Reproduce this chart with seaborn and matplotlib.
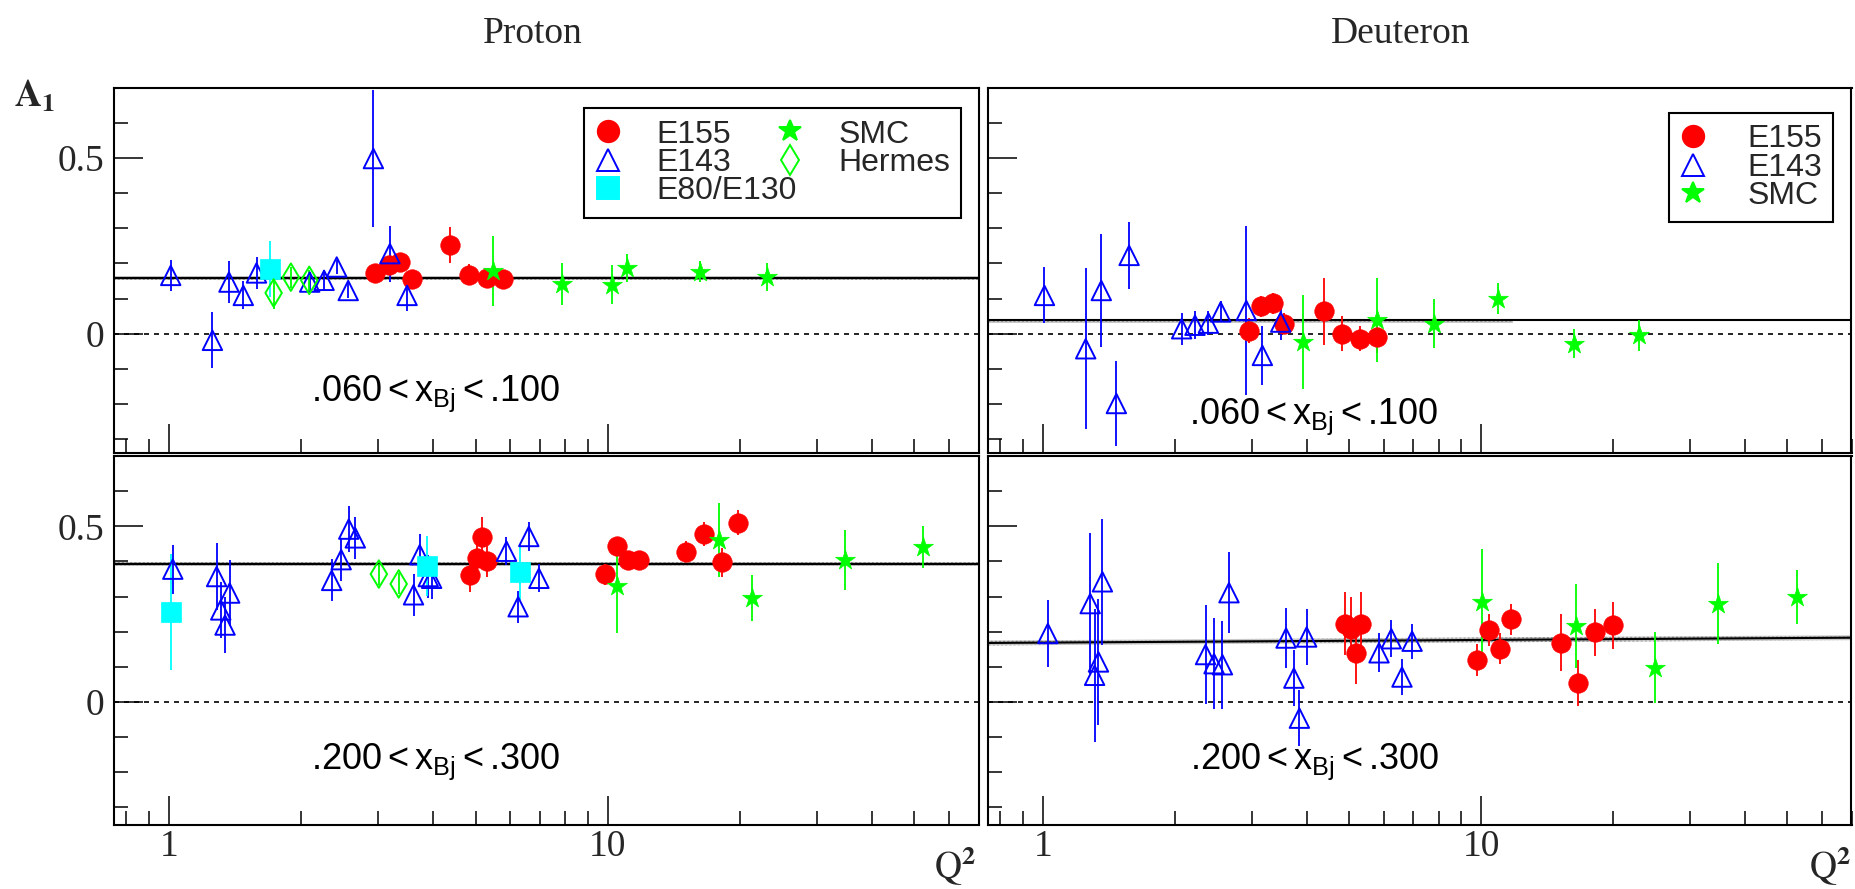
#!/usr/bin/env python3
"""
A1 vs Q^2 for proton and deuteron in two x_Bj bins (E155, E143, E80/E130, SMC, Hermes)
"""

import numpy as np
import pandas as pd
import matplotlib
matplotlib.use('Agg')
import matplotlib.pyplot as plt
import seaborn as sns
from matplotlib import ticker
from matplotlib.lines import Line2D

# =============================================================================
# DATA
# =============================================================================
# --- Proton, .060 < x < .100
P_LO_E155_Q2 = [2.95, 3.18, 3.37, 3.58, 4.38, 4.82, 5.30, 5.77]
P_LO_E155_A1 = [0.174, 0.195, 0.204, 0.155, 0.252, 0.168, 0.159, 0.157]
P_LO_E155_ER = [0.02, 0.025, 0.02, 0.02, 0.052, 0.03, 0.02, 0.02]

P_LO_E143_Q2 = [1.01, 1.257, 1.371, 1.478, 1.584, 2.094, 2.258, 2.413, 2.563, 2.925, 3.19, 3.49]
P_LO_E143_A1 = [0.166, -0.019, 0.147, 0.109, 0.173, 0.147, 0.152, 0.19, 0.123, 0.499, 0.228, 0.109]
P_LO_E143_ER = [0.043, 0.08, 0.06, 0.04, 0.045, 0.03, 0.03, 0.02, 0.02, 0.195, 0.08, 0.043]

P_LO_E80_Q2 = [1.697]
P_LO_E80_A1 = [0.185]
P_LO_E80_ER = [0.08]

P_LO_SMC_Q2 = [5.48, 7.88, 10.24, 11.07, 16.27, 23.1]
P_LO_SMC_A1 = [0.178, 0.142, 0.140, 0.188, 0.176, 0.161]
P_LO_SMC_ER = [0.1, 0.06, 0.055, 0.04, 0.03, 0.04]

P_LO_HER_Q2 = [1.733, 1.897, 2.089]
P_LO_HER_A1 = [0.116, 0.161, 0.152]
P_LO_HER_ER = [0.045, 0.03, 0.03]

# --- Deuteron, .060 < x < .100
D_LO_E155_Q2 = [2.956, 3.153, 3.344, 3.545, 4.376, 4.82, 5.28, 5.78]
D_LO_E155_A1 = [0.009, 0.078, 0.087, 0.028, 0.064, 0.0, -0.014, -0.009]
D_LO_E155_ER = [0.035, 0.03, 0.03, 0.03, 0.095, 0.05, 0.035, 0.045]

D_LO_E143_Q2 = [1.009, 1.253, 1.36, 1.472, 1.574, 2.074, 2.225, 2.387, 2.546, 2.913, 3.17, 3.49]
D_LO_E143_A1 = [0.109, -0.043, 0.123, -0.199, 0.223, 0.014, 0.024, 0.030, 0.062, 0.066, -0.062, 0.033]
D_LO_E143_ER = [0.08, 0.23, 0.16, 0.12, 0.095, 0.045, 0.04, 0.035, 0.03, 0.24, 0.085, 0.05]

D_LO_SMC_Q2 = [3.93, 5.78, 7.82, 10.95, 16.27, 22.97]
D_LO_SMC_A1 = [-0.024, 0.040, 0.028, 0.10, -0.028, -0.005]
D_LO_SMC_ER = [0.135, 0.12, 0.07, 0.045, 0.04, 0.045]

# --- Proton, .200 < x < .300
P_HI_E155_Q2 = [4.86, 5.04, 5.17, 5.31, 9.84, 10.48, 11.13, 11.79, 15.1, 16.6, 18.2, 19.85]
P_HI_E155_A1 = [0.362, 0.41, 0.47, 0.40, 0.364, 0.443, 0.405, 0.405, 0.427, 0.478, 0.397, 0.51]
P_HI_E155_ER = [0.05, 0.04, 0.057, 0.045, 0.03, 0.025, 0.025, 0.025, 0.03, 0.035, 0.04, 0.035]

P_HI_E143_Q2 = [1.021, 1.285, 1.313, 1.343, 1.376, 2.35, 2.47, 2.57, 2.66,
                3.61, 3.73, 3.9, 3.97, 5.88, 6.25, 6.61, 6.97]
P_HI_E143_A1 = [0.378, 0.357, 0.262, 0.219, 0.31, 0.346, 0.405, 0.492, 0.467,
                0.305, 0.419, 0.357, 0.352, 0.429, 0.271, 0.471, 0.352]
P_HI_E143_ER = [0.07, 0.095, 0.08, 0.08, 0.095, 0.06, 0.06, 0.065, 0.06,
                0.06, 0.06, 0.06, 0.06, 0.04, 0.045, 0.04, 0.04]

P_HI_E80_Q2 = [1.013, 3.88, 6.3]
P_HI_E80_A1 = [0.256, 0.388, 0.369]
P_HI_E80_ER = [0.165, 0.085, 0.08]

P_HI_SMC_Q2 = [10.52, 17.97, 21.3, 34.8, 52.3]
P_HI_SMC_A1 = [0.331, 0.462, 0.295, 0.405, 0.44]
P_HI_SMC_ER = [0.135, 0.105, 0.065, 0.085, 0.06]

P_HI_HER_Q2 = [3.01, 3.34]
P_HI_HER_A1 = [0.364, 0.336]
P_HI_HER_ER = [0.03, 0.03]

# --- Deuteron, .200 < x < .300
D_HI_E155_Q2 = [4.89, 5.04, 5.19, 5.31, 9.8, 10.42, 11.05, 11.68, 15.2, 16.6, 18.2, 20.0]
D_HI_E155_A1 = [0.223, 0.209, 0.140, 0.223, 0.119, 0.204, 0.152, 0.235, 0.169, 0.055, 0.199, 0.218]
D_HI_E155_ER = [0.09, 0.09, 0.09, 0.09, 0.045, 0.045, 0.045, 0.045, 0.08, 0.065, 0.067, 0.067]

D_HI_E143_Q2 = [1.027, 1.283, 1.313, 1.34, 1.368, 2.352, 2.459, 2.57, 2.66,
                3.59, 3.74, 3.85, 4.0, 5.85, 6.24, 6.6, 6.96]
D_HI_E143_A1 = [0.195, 0.28, 0.076, 0.114, 0.342, 0.135, 0.109, 0.106, 0.311,
                0.182, 0.068, -0.046, 0.185, 0.14, 0.18, 0.071, 0.173]
D_HI_E143_ER = [0.095, 0.2, 0.19, 0.18, 0.18, 0.14, 0.13, 0.125, 0.115,
                0.085, 0.08, 0.08, 0.08, 0.055, 0.052, 0.05, 0.05]

D_HI_SMC_Q2 = [10.03, 16.45, 24.9, 34.7, 52.6]
D_HI_SMC_A1 = [0.285, 0.216, 0.098, 0.28, 0.299]
D_HI_SMC_ER = [0.15, 0.12, 0.1, 0.115, 0.077]

# --- fitted constants (solid line) and their bands
FIT_Q2 = [0.75, 70]
P_LO_FIT = [0.158, 0.158]
D_LO_FIT = [0.040, 0.040]
P_HI_FIT = [0.393, 0.393]
D_HI_FIT = [0.168, 0.183]

P_LO_BAND_Q2, P_LO_BAND_LO, P_LO_BAND_HI = [0.75, 70], [0.153, 0.153], [0.163, 0.163]
D_LO_BAND_Q2, D_LO_BAND_LO, D_LO_BAND_HI = [0.75, 11.8], [0.031, 0.031], [0.042, 0.042]
P_HI_BAND_Q2, P_HI_BAND_LO, P_HI_BAND_HI = [0.75, 70], [0.387, 0.387], [0.399, 0.399]
D_HI_BAND_Q2, D_HI_BAND_LO, D_HI_BAND_HI = [0.75, 70], [0.161, 0.176], [0.175, 0.190]

BIN_LABELS = [r'.060$<$x$_{\rm Bj}$$<$.100', r'.200$<$x$_{\rm Bj}$$<$.300']
TARGETS = ['Proton', 'Deuteron']

# =============================================================================
# STYLE
# =============================================================================
sns.set_theme(style='white', rc={'axes.edgecolor': 'black', 'axes.linewidth': 1.5,
                                 'xtick.bottom': True, 'ytick.left': True})
plt.rcParams['font.family'] = ['Liberation Serif', 'DejaVu Serif']
plt.rcParams['mathtext.fontset'] = 'custom'
plt.rcParams['mathtext.rm'] = 'Liberation Sans'
plt.rcParams['mathtext.it'] = 'Liberation Sans:italic'
plt.rcParams['mathtext.bf'] = 'Liberation Sans:bold'

SANS = ['Liberation Sans', 'DejaVu Sans']
MS = 14

styles = {
    'E155':     dict(marker='o', color='#ff0000', open=False),
    'E143':     dict(marker='^', color='#0000ff', open=True),
    'E80/E130': dict(marker='s', color='#00ffff', open=False),
    'SMC':      dict(marker='*', color='#00ff00', open=False, size=15),
    'Hermes':   dict(marker='d', color='#00ff00', open=True),
}


def make_df(parts):
    frames = []
    for name, q2, a1, er in parts:
        frames.append(pd.DataFrame({'q2': q2, 'a1': a1, 'err': er, 'exp': name}))
    return pd.concat(frames, ignore_index=True)


panels = {
    (0, 0): make_df([('E155', P_LO_E155_Q2, P_LO_E155_A1, P_LO_E155_ER),
                     ('E143', P_LO_E143_Q2, P_LO_E143_A1, P_LO_E143_ER),
                     ('E80/E130', P_LO_E80_Q2, P_LO_E80_A1, P_LO_E80_ER),
                     ('SMC', P_LO_SMC_Q2, P_LO_SMC_A1, P_LO_SMC_ER),
                     ('Hermes', P_LO_HER_Q2, P_LO_HER_A1, P_LO_HER_ER)]),
    (0, 1): make_df([('E155', D_LO_E155_Q2, D_LO_E155_A1, D_LO_E155_ER),
                     ('E143', D_LO_E143_Q2, D_LO_E143_A1, D_LO_E143_ER),
                     ('SMC', D_LO_SMC_Q2, D_LO_SMC_A1, D_LO_SMC_ER)]),
    (1, 0): make_df([('E155', P_HI_E155_Q2, P_HI_E155_A1, P_HI_E155_ER),
                     ('E143', P_HI_E143_Q2, P_HI_E143_A1, P_HI_E143_ER),
                     ('E80/E130', P_HI_E80_Q2, P_HI_E80_A1, P_HI_E80_ER),
                     ('SMC', P_HI_SMC_Q2, P_HI_SMC_A1, P_HI_SMC_ER),
                     ('Hermes', P_HI_HER_Q2, P_HI_HER_A1, P_HI_HER_ER)]),
    (1, 1): make_df([('E155', D_HI_E155_Q2, D_HI_E155_A1, D_HI_E155_ER),
                     ('E143', D_HI_E143_Q2, D_HI_E143_A1, D_HI_E143_ER),
                     ('SMC', D_HI_SMC_Q2, D_HI_SMC_A1, D_HI_SMC_ER)]),
}
fits = {
    (0, 0): (P_LO_FIT, P_LO_BAND_Q2, P_LO_BAND_LO, P_LO_BAND_HI),
    (0, 1): (D_LO_FIT, D_LO_BAND_Q2, D_LO_BAND_LO, D_LO_BAND_HI),
    (1, 0): (P_HI_FIT, P_HI_BAND_Q2, P_HI_BAND_LO, P_HI_BAND_HI),
    (1, 1): (D_HI_FIT, D_HI_BAND_Q2, D_HI_BAND_LO, D_HI_BAND_HI),
}

# axes rectangles (figure fractions) and per-panel text placement
W, H = 1856, 889
rects = {
    (0, 0): [114 / W, 1 - 453 / H, 864.6 / W, 365 / H],
    (0, 1): [988 / W, 1 - 453 / H, 863.5 / W, 365 / H],
    (1, 0): [114 / W, 1 - 825 / H, 864.6 / W, 369 / H],
    (1, 1): [988 / W, 1 - 825 / H, 863.5 / W, 369 / H],
}
ylims = {0: (-0.34, 0.7), 1: (-0.35, 0.7)}
label_pos = {(0, 0): (2.11, -0.170), (0, 1): (2.16, -0.238),
             (1, 0): (2.11, -0.171), (1, 1): (2.17, -0.171)}

# =============================================================================
# PLOT
# =============================================================================
fig = plt.figure(figsize=(W / 100, H / 100), dpi=100)

for (r, c), df in panels.items():
    ax = fig.add_axes(rects[(r, c)])
    ax.set_xscale('log')

    # zero line and fit
    ax.axhline(0, color='black', lw=1.2, ls=(0, (3, 3)), zorder=1)
    fit, bq, blo, bhi = fits[(r, c)]
    ax.fill_between(bq, blo, bhi, facecolor='#c8c8c8', edgecolor='#8a8a8a',
                    hatch='....', lw=0, zorder=1)
    sns.lineplot(x=FIT_Q2, y=fit, ax=ax, color='black', lw=1.5, zorder=2)

    for name in ['E155', 'E143', 'E80/E130', 'SMC', 'Hermes']:
        sub = df[df['exp'] == name]
        if sub.empty:
            continue
        st = styles[name]
        size = st.get('size', MS)
        ax.errorbar(sub['q2'], sub['a1'], yerr=sub['err'], fmt='none',
                    ecolor=st['color'], elinewidth=1.3, capsize=0, zorder=3)
        if st['open']:
            sns.scatterplot(data=sub, x='q2', y='a1', ax=ax, marker=st['marker'],
                            s=size ** 2, facecolors='none', edgecolor=st['color'],
                            linewidth=1.4, zorder=4, legend=False)
        else:
            sns.scatterplot(data=sub, x='q2', y='a1', ax=ax, marker=st['marker'],
                            s=size ** 2, color=st['color'], edgecolor=st['color'],
                            linewidth=0.5, zorder=4, legend=False)

    ax.set_xlim(0.75, 70)
    ax.set_ylim(*ylims[r])
    ax.set_xlabel('')
    ax.set_ylabel('')

    # ROOT-like ticks: inside, left/bottom only
    ax.xaxis.set_major_locator(ticker.FixedLocator([1, 10]))
    ax.xaxis.set_minor_locator(ticker.LogLocator(base=10, subs=np.arange(2, 10), numticks=20))
    ax.yaxis.set_major_locator(ticker.FixedLocator([0, 0.5]))
    ax.yaxis.set_minor_locator(ticker.FixedLocator([-0.3, -0.2, -0.1, 0.1, 0.2, 0.3, 0.4, 0.6]))
    ax.tick_params(which='both', direction='in', bottom=True, left=True, top=False,
                   right=False, color='black', width=1.1)
    ax.tick_params(which='major', length=21)
    ax.tick_params(which='minor', length=10)
    ax.tick_params(axis='x', which='major', pad=3, labelsize=27)
    ax.tick_params(axis='y', which='major', pad=7, labelsize=27)
    ax.xaxis.set_minor_formatter(ticker.NullFormatter())
    if r == 1:
        ax.xaxis.set_major_formatter(ticker.FixedFormatter(['1', '10']))
    else:
        ax.xaxis.set_major_formatter(ticker.NullFormatter())
    if c == 0:
        ax.yaxis.set_major_formatter(ticker.FixedFormatter(['0', '0.5']))
    else:
        ax.yaxis.set_major_formatter(ticker.NullFormatter())
    for sp in ax.spines.values():
        sp.set_visible(True)
        sp.set_color('black')
        sp.set_linewidth(1.5)

    tx, ty = label_pos[(r, c)]
    ax.text(tx, ty, BIN_LABELS[r], ha='left', va='center', fontsize=26,
            family=SANS, color='black')

    # legends in the top row
    if r == 0:
        names = ['E155', 'E143', 'E80/E130', 'SMC', 'Hermes'] if c == 0 else ['E155', 'E143', 'SMC']
        handles = []
        for name in names:
            st = styles[name]
            handles.append(Line2D([], [], ls='none', marker=st['marker'],
                                  markersize=st.get('size', MS) * 1.1,
                                  markerfacecolor='none' if st['open'] else st['color'],
                                  markeredgecolor=st['color'], markeredgewidth=1.4))
        if c == 0:
            leg = ax.legend(handles, names, ncol=2, loc='upper right',
                            bbox_to_anchor=(0.980, 0.944), borderaxespad=0,
                            prop={'family': SANS, 'size': 23}, frameon=True,
                            fancybox=False, edgecolor='black', framealpha=1,
                            handlelength=0.8, handletextpad=1.1, columnspacing=-0.6,
                            labelspacing=-0.05, borderpad=0.35)
        else:
            leg = ax.legend(handles, names, ncol=1, loc='upper right',
                            bbox_to_anchor=(0.979, 0.931), borderaxespad=0,
                            prop={'family': SANS, 'size': 23}, frameon=True,
                            fancybox=False, edgecolor='black', framealpha=1,
                            handlelength=0.8, handletextpad=1.3,
                            labelspacing=-0.05, borderpad=0.35)
        leg.get_frame().set_linewidth(1.5)

# titles and axis captions
fig.text(533 / W, 1 - 43 / H, TARGETS[0], ha='center', va='baseline', fontsize=27)
fig.text(1401 / W, 1 - 43 / H, TARGETS[1], ha='center', va='baseline', fontsize=27)
fig.text(14 / W, 1 - 107 / H, r'$\mathbf{A}_{\mathbf{1}}$', ha='left', va='baseline',
         fontsize=27, math_fontfamily='stix')
fig.text(976 / W, 1 - 879 / H, r'$\mathrm{Q}^{\mathbf{2}}$', ha='right', va='baseline',
         fontsize=27, math_fontfamily='stix')
fig.text(1851 / W, 1 - 879 / H, r'$\mathrm{Q}^{\mathbf{2}}$', ha='right', va='baseline',
         fontsize=27, math_fontfamily='stix')

plt.savefig('out.png', dpi=100)
print("Saved: out.png")
